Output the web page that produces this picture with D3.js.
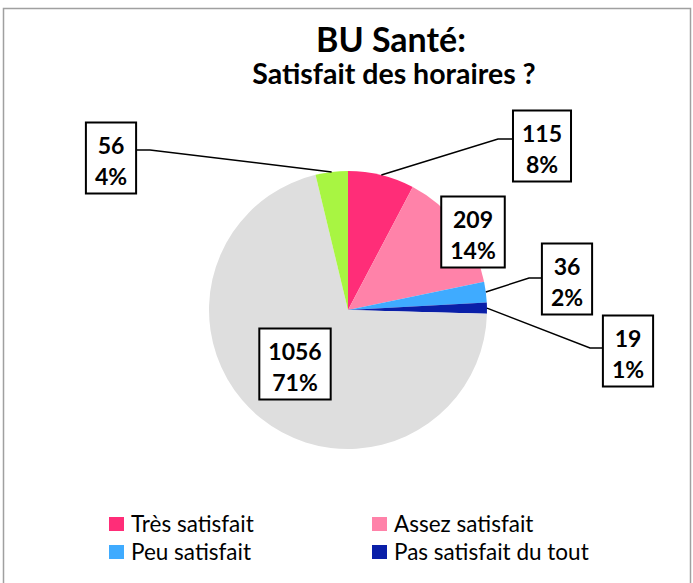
<!DOCTYPE html>
<html>
<head>
<meta charset="utf-8">
<script src="https://cdn.jsdelivr.net/npm/d3@7"></script>
<style>
  body { margin: 0; background: #fff; }
  svg { display: block; font-family: Lato, "Open Sans", sans-serif; }
</style>
</head>
<body>
<svg id="chart" width="693" height="583"></svg>
<script>
// data
const categories = ["Très satisfait", "Assez satisfait", "Peu satisfait", "Pas satisfait du tout", "Sans avis", "Non concerné"];
const counts = [115, 209, 36, 19, 1056, 56];
const percents = ["8%", "14%", "2%", "1%", "71%", "4%"];
const colors = ["#ff2d78", "#ff82a9", "#3fabff", "#0a1fa8", "#dedede", "#a8f542"];
const legendItems = categories.slice(0, 4);

// where each label box sits (centre) and its elbow point, null = no leader
const labelPos = [
  {cx: 542, cy: 146, elbow: [498, 139]},
  {cx: 473, cy: 232, elbow: null},
  {cx: 567, cy: 279, elbow: [529, 278]},
  {cx: 628, cy: 351, elbow: [590, 348]},
  {cx: 295, cy: 364, elbow: null},
  {cx: 111, cy: 158, elbow: [150, 150]}
];

const svg = d3.select("#chart");
const cx = 348, cy = 310, r = 139;

// frame
svg.append("rect")
  .attr("x", 3.5).attr("y", 8.5)
  .attr("width", 687).attr("height", 600)
  .attr("fill", "none").attr("stroke", "#a0a0a0").attr("stroke-width", 1.5);

// titles
svg.append("text").attr("x", 391).attr("y", 52)
  .attr("text-anchor", "middle").attr("font-size", 34).attr("font-weight", "bold")
  .text("BU Santé:");
svg.append("text").attr("x", 394).attr("y", 84)
  .attr("text-anchor", "middle").attr("font-size", 28.5).attr("font-weight", "bold")
  .text("Satisfait des horaires ?");

const pie = d3.pie().sort(null).value(d => d)(counts);
const arc = d3.arc().innerRadius(0).outerRadius(r);

const g = svg.append("g").attr("transform", `translate(${cx},${cy})`);
g.selectAll("path").data(pie).join("path")
  .attr("d", arc)
  .attr("fill", (d, i) => colors[i]);

// leader lines
const edge = d3.arc().innerRadius(r).outerRadius(r);
pie.forEach((d, i) => {
  const p = labelPos[i];
  if (!p.elbow) return;
  const [ex, ey] = edge.centroid(d);
  const sx = cx + ex, sy = cy + ey;
  svg.append("polyline")
    .attr("points", [[sx, sy], p.elbow, [p.elbow[0] + (p.cx > cx ? 16 : -16), p.elbow[1]]].map(q => q.join(",")).join(" "))
    .attr("fill", "none").attr("stroke", "#000").attr("stroke-width", 1.5);
});

// label boxes
pie.forEach((d, i) => {
  const p = labelPos[i];
  const lg = svg.append("g");
  const box = lg.append("rect");
  const t1 = lg.append("text").attr("x", p.cx).attr("y", p.cy - 4)
    .attr("text-anchor", "middle").attr("font-size", 23).attr("font-weight", "bold")
    .text(counts[i]);
  const t2 = lg.append("text").attr("x", p.cx).attr("y", p.cy + 27)
    .attr("text-anchor", "middle").attr("font-size", 23).attr("font-weight", "bold")
    .text(percents[i]);
  const w = Math.max(t1.node().getComputedTextLength(), t2.node().getComputedTextLength()) + 18;
  box.attr("x", p.cx - w / 2).attr("y", p.cy - 35.5).attr("width", w).attr("height", 71)
    .attr("fill", "#fff").attr("stroke", "#000").attr("stroke-width", 2);
});

// legend
const lg = svg.append("g");
legendItems.forEach((name, i) => {
  const x = i % 2 === 0 ? 109 : 372;
  const y = 517 + Math.floor(i / 2) * 28;
  lg.append("rect").attr("x", x).attr("y", y).attr("width", 15).attr("height", 14)
    .attr("fill", colors[i]);
  lg.append("text").attr("x", x + 22).attr("y", y + 15)
    .attr("font-size", 22.5).text(name);
});
</script>
</body>
</html>
